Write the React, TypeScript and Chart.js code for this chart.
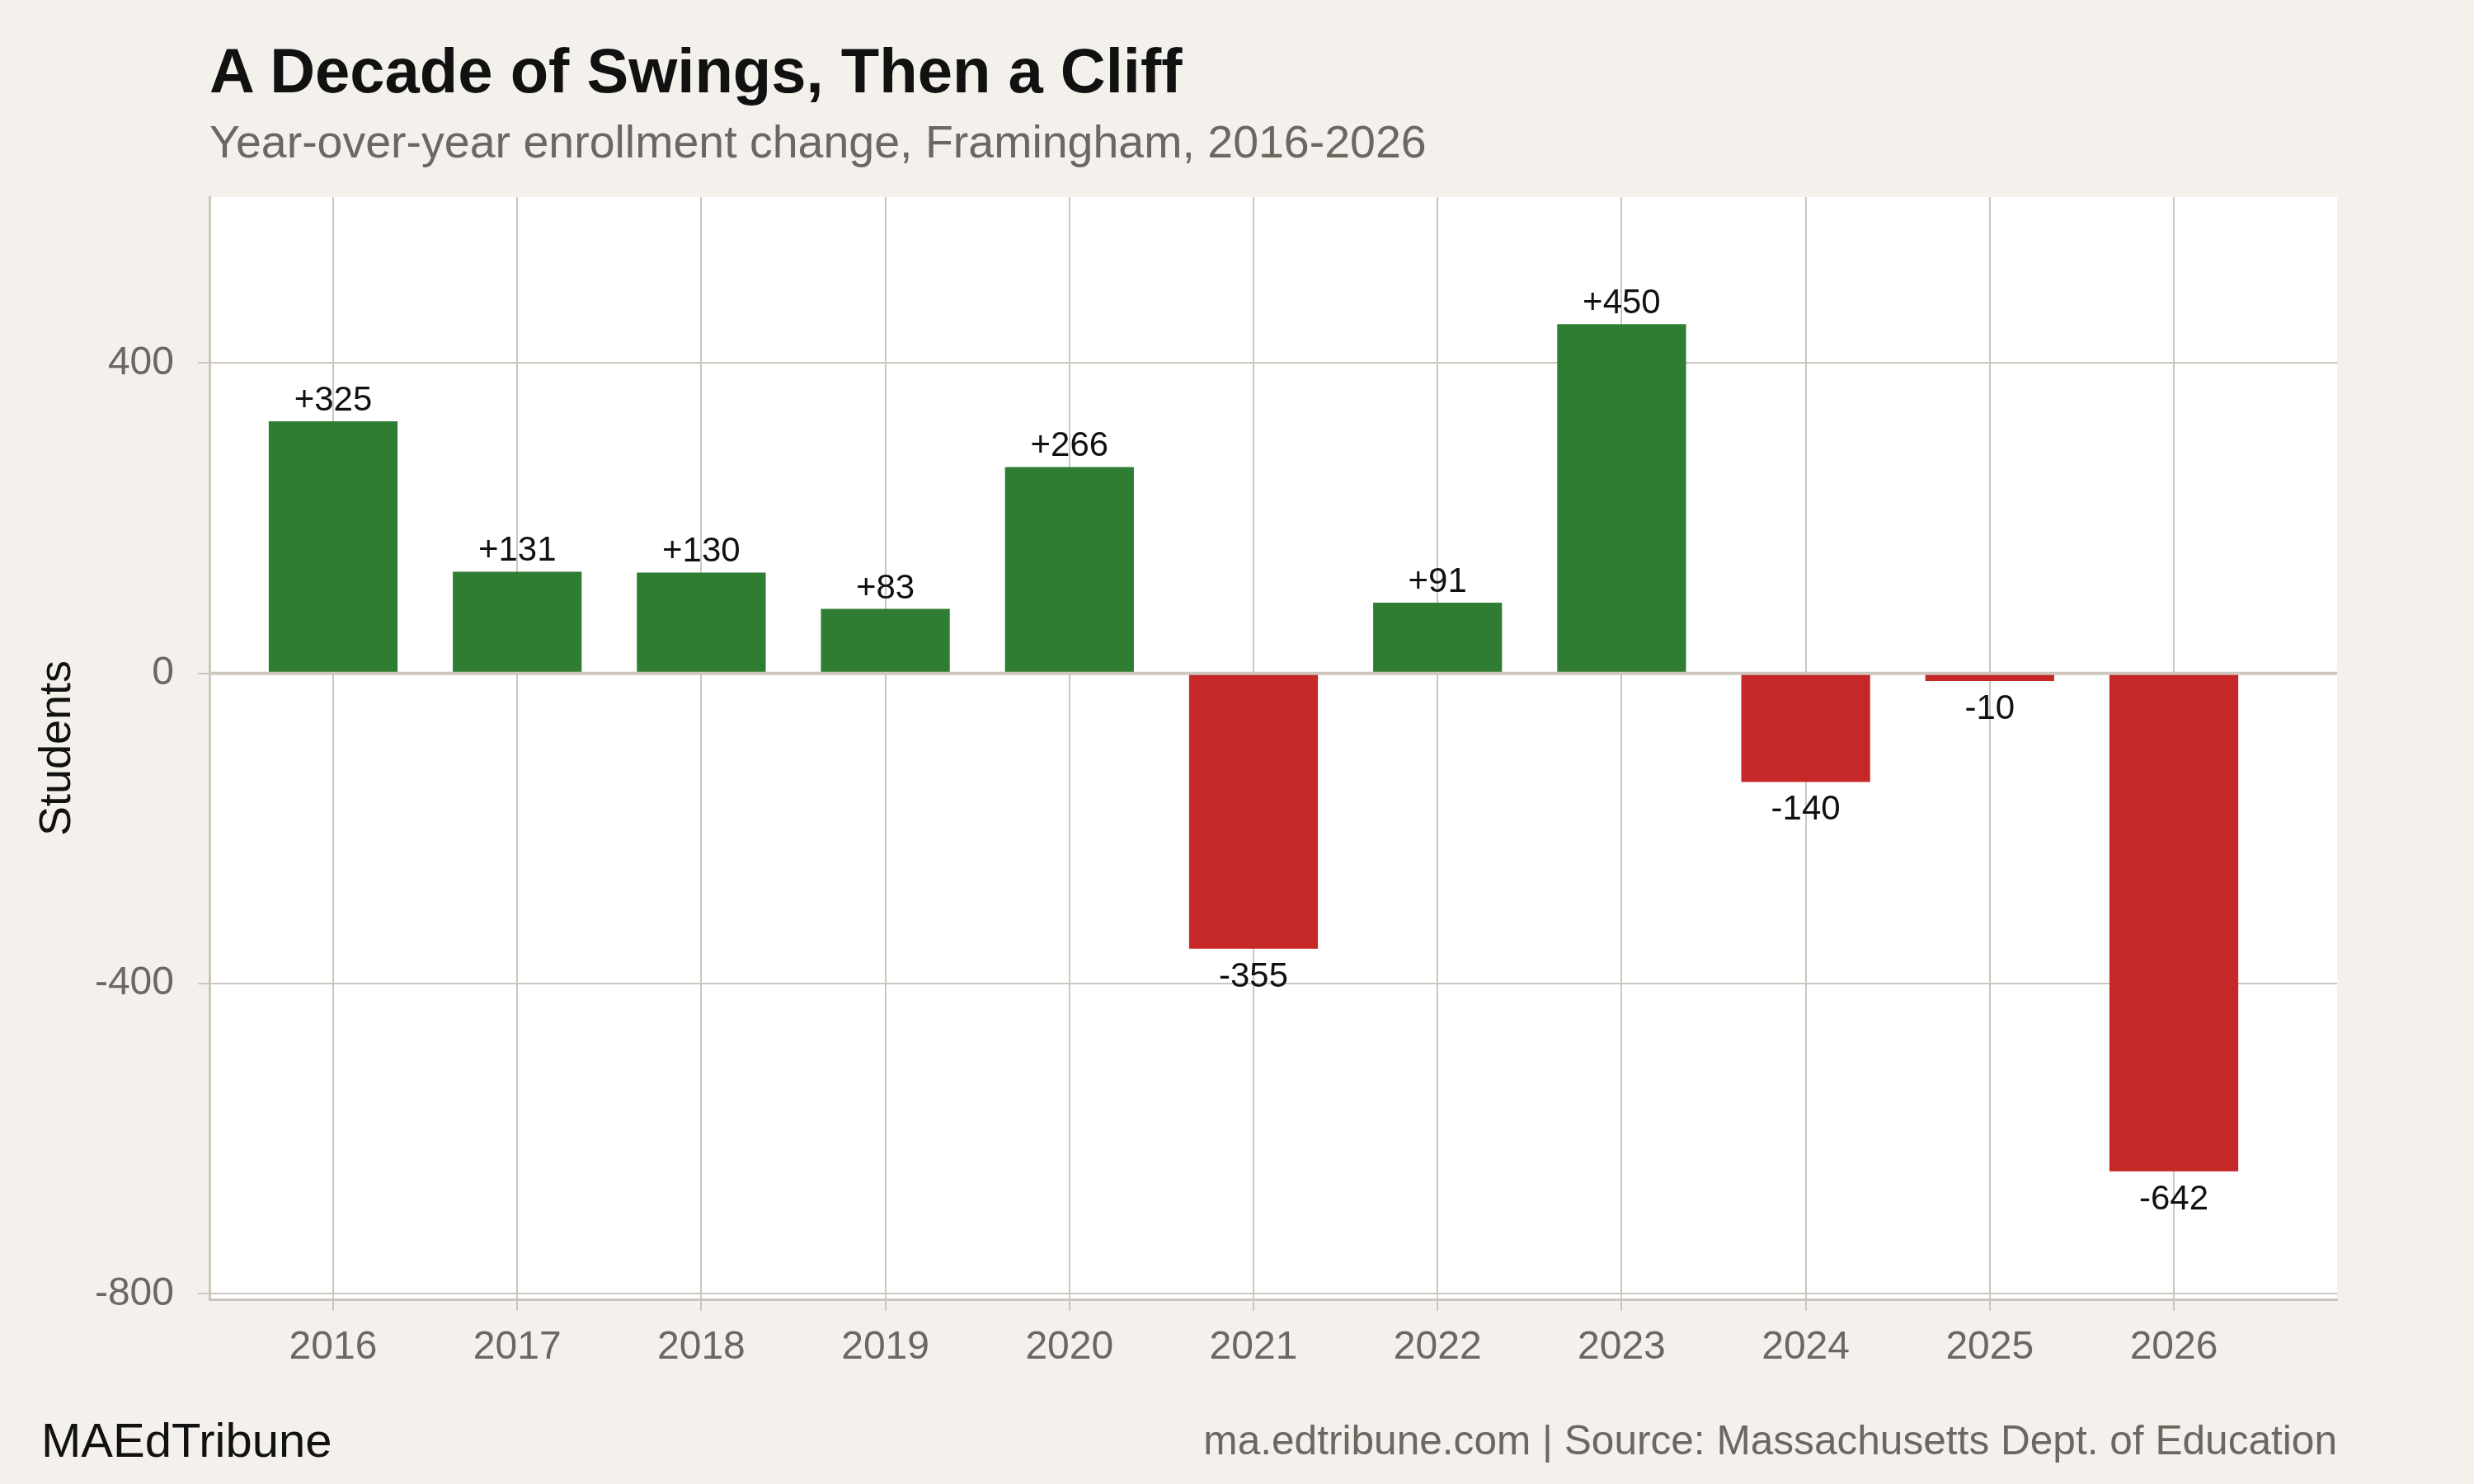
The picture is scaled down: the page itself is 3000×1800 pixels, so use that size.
import { useEffect, useRef } from 'react'
import { Chart, registerables } from 'chart.js'
Chart.register(...registerables)

const years = [2016, 2017, 2018, 2019, 2020, 2021, 2022, 2023, 2024, 2025, 2026]
const changes = [325, 131, 130, 83, 266, -355, 91, 450, -140, -10, -642]
const yTicks = [-800, -400, 0, 400]

const FONT = '"Liberation Sans", Arial, Helvetica, sans-serif'
const BG = '#f4f1ec'
const GRID = '#ccc6bc'
const GRAY = '#6b6862'
const INK = '#111111'
const GREEN = '#2e7d32'
const RED = '#c62828'

// white plot panel on the beige page
const panelPlugin = {
  id: 'panel',
  beforeDraw(chart: any) {
    const { ctx, chartArea } = chart
    ctx.save()
    ctx.fillStyle = '#ffffff'
    ctx.fillRect(chartArea.left, chartArea.top, chartArea.right - chartArea.left, chartArea.bottom - chartArea.top)
    ctx.restore()
  },
}

// zero baseline over the bars, then value labels
const labelPlugin = {
  id: 'valueLabels',
  afterDatasetsDraw(chart: any) {
    const { ctx, chartArea } = chart
    const y0 = chart.scales.y.getPixelForValue(0)
    ctx.save()
    ctx.strokeStyle = GRID
    ctx.lineWidth = 4
    ctx.beginPath()
    ctx.moveTo(chartArea.left, y0)
    ctx.lineTo(chartArea.right, y0)
    ctx.stroke()

    ctx.font = `42px ${FONT}`
    ctx.fillStyle = INK
    ctx.textAlign = 'center'
    ctx.textBaseline = 'alphabetic'
    const meta = chart.getDatasetMeta(0)
    meta.data.forEach((bar: any, i: number) => {
      const v = changes[i]
      const text = v > 0 ? `+${v}` : `${v}`
      const y = v >= 0 ? bar.y - 13 : bar.y + 46
      ctx.fillText(text, bar.x, y)
    })
    ctx.restore()
  },
}

function DecadeChart() {
  const chartRef = useRef<HTMLCanvasElement>(null)
  const chartInstance = useRef<Chart | null>(null)

  useEffect(() => {
    if (!chartRef.current) return
    if (chartInstance.current) chartInstance.current.destroy()
    const ctx = chartRef.current.getContext('2d')
    if (!ctx) return

    chartInstance.current = new Chart(ctx, {
      type: 'bar',
      data: {
        datasets: [
          {
            data: years.map((yr, i) => ({ x: yr, y: changes[i] })),
            backgroundColor: changes.map(v => (v >= 0 ? GREEN : RED)),
            borderWidth: 0,
            barPercentage: 0.7,
            categoryPercentage: 1,
          },
        ],
      },
      options: {
        responsive: false,
        devicePixelRatio: 1,
        animation: false,
        layout: { padding: { left: 0, right: 166, top: 239, bottom: 124 } },
        plugins: {
          legend: { display: false },
          tooltip: { enabled: false },
          title: { display: false },
        },
        scales: {
          x: {
            type: 'linear',
            min: 2015.328,
            max: 2026.887,
            offset: false,
            afterBuildTicks: (axis: any) => {
              axis.ticks = years.map(v => ({ value: v }))
            },
            afterFit: (axis: any) => {
              axis.height = 100
            },
            grid: {
              offset: false,
              color: GRID,
              lineWidth: 2,
              drawTicks: true,
              tickLength: 14,
              tickWidth: 2,
              tickColor: GRID,
            },
            border: { display: true, color: GRID, width: 3 },
            ticks: {
              color: GRAY,
              padding: 16,
              font: { family: FONT, size: 48 },
              callback: (v: any) => String(v),
            },
          },
          y: {
            type: 'linear',
            min: -807,
            max: 614,
            afterBuildTicks: (axis: any) => {
              axis.ticks = yTicks.map(v => ({ value: v }))
            },
            afterFit: (axis: any) => {
              axis.width = 254
            },
            grid: {
              color: GRID,
              lineWidth: 2,
              drawTicks: true,
              tickLength: 14,
              tickWidth: 2,
              tickColor: GRID,
            },
            border: { display: true, color: GRID, width: 3 },
            ticks: {
              color: GRAY,
              padding: 29,
              font: { family: FONT, size: 48 },
              callback: (v: any) => String(v),
            },
            title: {
              display: true,
              text: 'Students',
              color: INK,
              font: { family: FONT, size: 54 },
              padding: { top: 38, bottom: 0 },
            },
          },
        },
      },
      plugins: [panelPlugin, labelPlugin],
    })

    return () => {
      if (chartInstance.current) {
        chartInstance.current.destroy()
        chartInstance.current = null
      }
    }
  }, [])

  return <canvas ref={chartRef} width={3000} height={1800} style={{ position: 'absolute', left: 0, top: 0 }} />
}

export default function App() {
  const text = (top: number, size: number, extra: any) => ({
    position: 'absolute' as const,
    top,
    fontFamily: FONT,
    fontSize: size,
    lineHeight: `${size}px`,
    whiteSpace: 'nowrap' as const,
    margin: 0,
    ...extra,
  })

  return (
    <div style={{ position: 'absolute', left: 0, top: 0, width: 3000, height: 1800, background: BG, overflow: 'hidden' }}>
      <DecadeChart />
      <div style={text(112 - 64, 76, { left: 254, fontWeight: 'bold', color: INK })}>
        A Decade of Swings, Then a Cliff
      </div>
      <div style={text(192 - 47, 55.5, { left: 254, color: GRAY })}>
        Year-over-year enrollment change, Framingham, 2016-2026
      </div>
      <div style={text(1767 - 49, 58, { left: 50, color: INK })}>MAEdTribune</div>
      <div style={text(1765 - 42, 49.6, { right: 3000 - 2834, color: GRAY })}>
        ma.edtribune.com | Source: Massachusetts Dept. of Education
      </div>
    </div>
  )
}
